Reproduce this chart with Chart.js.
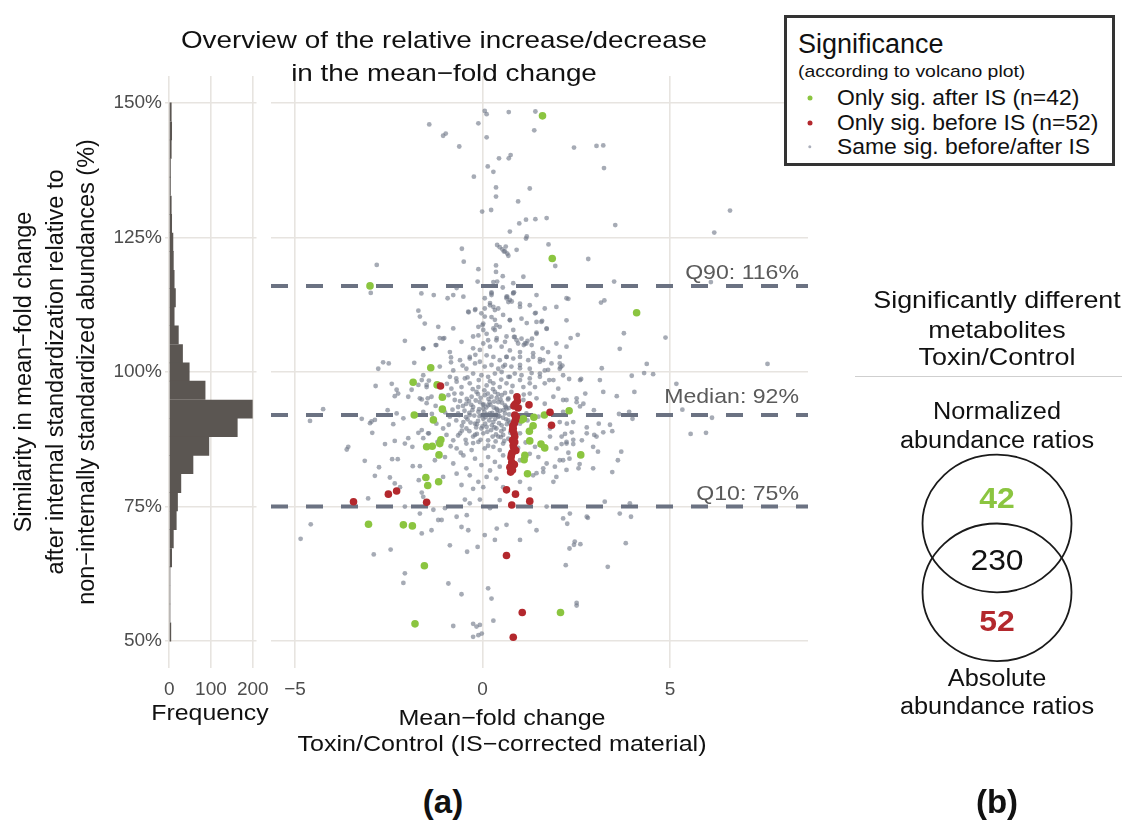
<!DOCTYPE html>
<html><head><meta charset="utf-8">
<script src="https://cdn.jsdelivr.net/npm/chart.js@4"></script>
<style>
body{margin:0;background:#fff;width:1131px;height:821px;position:relative;overflow:hidden;font-family:"Liberation Sans",Arial,sans-serif;color:#111;}
canvas{position:absolute;top:0;}
.t{position:absolute;white-space:nowrap;transform:translate(-50%,-50%) scaleX(var(--sx,1));line-height:1;}
#legend{position:absolute;left:784px;top:15px;width:325px;height:145px;border:3px solid #333;background:#fff;}
#legend .l{position:absolute;white-space:nowrap;line-height:1;transform:translateY(-50%) scaleX(var(--sx,1));transform-origin:0 50%;}
#legend .dot{position:absolute;border-radius:50%;transform:translate(-50%,-50%);}
</style></head><body>
<canvas id="hist" width="285" height="760" style="left:0"></canvas>
<canvas id="scat" width="560" height="760" style="left:262px"></canvas>

<div class="t" style="left:444px;top:40px;font-size:24px;--sx:1.16">Overview of the relative increase/decrease</div>
<div class="t" style="left:444px;top:73px;font-size:24px;--sx:1.16">in the mean−fold change</div>
<div class="t" style="left:210px;top:713px;font-size:22px;--sx:1.13">Frequency</div>
<div class="t" style="left:502px;top:718px;font-size:22px;--sx:1.14">Mean−fold change</div>
<div class="t" style="left:502px;top:744px;font-size:22px;--sx:1.14">Toxin/Control (IS−corrected material)</div>
<div class="t" style="left:443px;top:801px;font-size:33px;font-weight:bold">(a)</div>

<div id="legend"></div>

<svg width="1131" height="821" style="position:absolute;left:0;top:0;pointer-events:none">
  <line x1="855" y1="376.5" x2="1122" y2="376.5" stroke="#cfcfcf" stroke-width="1"/>
  <ellipse cx="997" cy="523.5" rx="74.5" ry="68.8" fill="none" stroke="#1a1a1a" stroke-width="1.8"/>
  <ellipse cx="997" cy="592.3" rx="74.5" ry="68.8" fill="none" stroke="#1a1a1a" stroke-width="1.8"/>
</svg>
<div id="venn"></div>

<script>
// ---------------- DATA ----------------
// histogram of similarity (%) : bin centres and frequencies
const histBins   = [148.3,144.8,141.4,137.9,134.5,131.0,127.6,124.1,120.7,117.2,113.8,110.3,106.9,103.4,100.0,96.6,93.1,89.7,86.2,82.8,79.3,75.9,72.4,69.0,65.5,62.1,58.6,55.2,51.7];
const histCounts = [5,6,5,3,3,5,6,9,10,12,15,12,22,32,48,86,199,163,95,57,28,20,17,10,6,2,2,2,4];

// reference lines (quantiles of similarity, %)
const refLabels = ['Q90: 116%','Median: 92%','Q10: 75%'];
const refValues = [116, 92, 75];

// axis texts
const yTitleLines = ['Similarity in mean−fold change','after internal standardization relative to','non−internally standardized abundances (%)'];

// scatter: [mean-fold change, similarity %]
const onlyAfterIS = [[1.60,147.6],[1.86,121.1],[4.11,111.0],[-3.00,116.0],[-1.38,100.8],[-1.85,98.1],[-1.21,97.6],[-1.07,95.3],[-1.07,93.1],[-1.82,92.0],[-1.31,91.1],[-1.49,86.1],[-1.34,86.2],[-1.11,87.4],[-1.14,86.7],[-1.16,84.6],[-1.51,80.4],[-1.46,78.9],[-1.17,79.6],[-2.11,71.6],[-1.87,71.4],[-3.04,71.7],[-1.55,64.0],[-1.80,53.2],[2.08,55.3],[1.09,91.3],[1.37,91.6],[1.35,90.0],[1.65,92.0],[2.31,92.8],[1.26,87.2],[1.56,86.6],[1.66,85.9],[1.13,84.5],[1.11,83.7],[1.20,81.1],[2.62,84.6],[1.04,91.1],[1.25,89.0]];

const onlyBeforeIS = [[-1.12,97.4],[0.93,94.6],[0.95,93.3],[1.24,93.9],[1.80,92.5],[1.84,90.1],[0.86,92.0],[0.88,91.1],[0.82,89.5],[0.84,88.6],[0.86,88.0],[0.82,86.4],[0.89,85.4],[0.79,85.0],[0.78,83.2],[0.85,82.8],[0.75,81.4],[0.90,91.7],[0.85,90.5],[0.80,89.2],[0.83,86.0],[0.76,84.1],[0.73,82.3],[0.92,95.4],[0.87,94.0],[0.80,87.3],[0.84,93.7],[0.81,90.0],[0.86,87.0],[0.77,84.6],[0.80,81.8],[0.64,78.1],[0.88,77.3],[0.78,75.3],[1.26,76.0],[-2.51,77.3],[-2.29,77.9],[-1.49,75.8],[-3.44,75.9],[0.64,65.9],[1.06,55.3],[0.82,50.7]];

const sameSigUpper = [[-1.42,146.0],[-1.05,143.9],[-0.98,144.3],[-0.62,141.9],[-0.11,146.2],[0.06,148.5],[0.11,147.9],[0.70,148.3],[1.41,148.4],[1.38,144.9],[0.11,143.6],[0.44,139.7],[0.70,139.7],[0.75,140.3],[0.14,138.2],[0.29,137.2],[-0.23,136.3],[0.36,134.3],[0.36,132.6],[1.26,134.1],[0.95,131.7],[-0.01,129.8],[0.23,130.1],[0.98,127.6],[1.16,128.3],[1.41,128.4],[1.71,128.6],[0.73,126.1],[1.16,124.8],[1.76,123.7],[-0.55,122.9],[0.39,123.6],[0.46,123.2],[0.53,122.8],[0.60,122.4],[0.66,122.0],[0.91,122.7],[-0.50,120.5],[-0.11,119.1],[0.36,119.8],[0.36,118.6],[0.54,117.8],[-0.13,116.8],[0.39,116.8],[-0.69,115.6],[0.24,114.8],[0.54,115.7],[0.84,114.8],[0.62,123.3],[0.57,122.4],[0.69,121.6],[0.66,114.0],[1.18,125.2]];

const sameSigRight = [[2.44,141.7],[3.04,142.0],[3.22,142.1],[3.24,137.9],[3.54,127.3],[6.60,130.0],[6.18,125.9],[1.94,119.7],[2.82,121.0],[3.51,116.8],[6.09,116.7],[2.29,113.6],[3.16,112.9],[3.25,113.3],[1.42,111.0],[1.59,109.5],[0.73,109.7],[1.71,108.0],[1.44,107.3],[2.35,106.3],[2.54,106.9],[3.77,107.2],[4.88,106.4],[3.66,104.3],[1.60,104.4],[0.84,106.5],[0.95,105.3],[1.20,105.8],[1.32,106.2],[1.10,105.0],[4.38,101.5],[7.60,101.5],[4.31,99.8],[4.55,99.6],[3.98,99.3],[3.18,100.7],[2.31,98.7],[2.63,98.7],[2.08,100.9],[2.13,101.2],[1.78,98.5],[1.31,99.8],[1.00,100.7],[1.53,102.4],[1.00,102.8],[1.35,103.5],[0.64,102.8],[0.55,101.0],[1.62,102.2],[1.75,100.4],[2.06,101.6],[1.53,99.1],[1.00,98.5],[0.73,99.1],[1.26,97.9],
[3.22,96.3],[3.58,95.5],[4.05,96.3],[5.17,97.8],[2.74,96.0],[5.33,93.0],[6.12,91.5],[5.55,88.5],[5.96,88.7],[3.91,92.6],[4.00,91.3],[3.64,92.2],[3.40,90.2],[3.22,88.8],[3.46,89.0],[2.98,88.3],[2.78,89.7],[2.65,87.3],[3.08,85.2],[3.70,85.2],[3.61,83.6],[3.46,81.4],[2.56,82.1],[2.59,82.9],[2.32,83.9],[2.15,83.6],[2.42,86.6],[3.26,75.9],[2.15,72.8],[2.33,73.7],[2.26,71.8],[2.81,72.9],[3.96,73.1],[2.61,68.0],[2.44,67.9],[2.32,67.2],[3.82,68.2],[2.22,64.1],[3.34,63.8],[2.51,56.6],[2.60,98.5],[3.13,98.5],[2.24,94.8],[2.51,95.1],[2.60,93.6],[2.11,88.0],[2.24,86.7],[2.42,87.4],[2.78,88.6],[3.04,88.0],[2.95,86.1],[2.95,82.1],[2.06,83.6],[2.24,81.8],[1.89,79.6],[1.44,81.2],[1.62,82.1],[2.15,92.6],[2.42,90.7],[2.25,90.4],[2.51,94.4],[2.69,94.1],[2.20,88.5],[2.38,88.8],[2.11,86.6],[2.29,85.0],[2.97,92.9],[3.10,90.4]];

const sameSigLeft = [[-2.82,119.9],[-2.98,114.7],[-1.71,111.4],[-1.67,110.3],[-2.07,105.8],[-1.58,104.3],[-2.65,101.8],[-2.50,101.6],[-2.78,100.6],[-1.82,101.7],[-2.85,97.4],[-2.42,97.8],[-2.29,96.7],[-2.25,96.0],[-2.34,95.5],[-1.98,95.4],[-1.89,96.7],[-1.62,98.5],[-1.49,97.6],[-1.43,98.4],[-1.71,97.6],[-1.62,94.9],[-1.46,95.1],[-1.49,94.2],[-4.25,93.1],[-4.60,90.9],[-3.22,91.3],[-2.96,90.8],[-2.87,91.1],[-3.00,90.5],[-2.53,92.9],[-2.29,92.3],[-2.38,90.3],[-2.11,91.4],[-2.94,88.7],[-3.62,85.6],[-3.58,86.1],[-2.60,86.6],[-2.34,87.2],[-2.07,86.7],[-1.98,87.7],[-1.87,86.1],[-1.71,88.7],[-1.62,89.2],[-1.43,88.6],[-1.58,87.7],[-3.14,83.5],[-2.41,83.8],[-2.26,83.8],[-2.76,82.3],[-2.87,80.7],[-1.86,82.5],[-1.67,82.5],[-2.47,80.4],[-2.34,79.3],[-2.20,78.6],[-1.70,79.9],[-1.62,77.6],[-1.58,76.8],[-3.05,76.5],[-4.58,71.7],[-4.85,69.0],[-2.90,66.1],[-2.45,67.0],[-2.07,62.6],[-2.11,60.8]];

const sameSigMid = [[-0.93,113.7],[-0.37,111.1],[-0.19,111.7],[0.06,111.8],[0.29,112.1],[0.00,108.7],[-1.25,105.0],[-1.14,106.3],[-1.02,106.3],[-0.84,102.7],[-0.84,101.8],[-0.53,101.2],[-0.34,102.5],[-0.19,103.2],[-0.07,104.1],[0.02,105.3],[0.29,116.7],[0.82,116.5],[1.09,117.7],[0.24,114.6],[0.82,114.7],[0.73,113.4],[0.20,112.8],[0.33,111.5],[0.64,113.7],[0.78,113.1],[0.06,110.3],[0.33,109.7],[1.00,112.1],[-0.11,108.4],[0.02,107.8],[0.29,108.1],[0.46,108.4],[0.82,107.8],[1.18,109.1],[-0.25,106.6],[0.15,105.9],[0.38,106.3],[0.64,106.6],[0.91,105.9],[1.13,105.3],
[-1.63,114.6],[-1.30,114.3],[-0.78,114.3],[-0.51,114.0],[0.06,113.7],[0.24,114.3],[0.64,114.0],[0.82,114.6],[1.44,114.3],[2.24,113.7],[0.20,112.4],[0.42,111.8],[0.69,113.0],[1.00,112.7],[1.26,112.4],[1.40,110.9],[1.66,111.8],[1.97,112.1],
[-0.38,111.2],[-0.20,111.5],[-0.03,110.9],[0.24,110.2],[0.55,110.6],[0.73,109.6],[1.04,109.9],[1.44,109.3],[1.57,109.3],[1.71,108.1],[2.24,109.6],[-1.54,109.0],[-1.18,108.4],[-0.78,108.1],[0.37,108.7],[0.02,109.0],[0.33,107.8],
[-1.05,106.2],[-0.56,105.6],[-0.11,106.8],[0.11,107.1],[0.37,105.9],[0.60,105.6],[0.86,106.5],[1.04,106.2],[1.17,105.3],[1.44,107.1],[1.97,105.3],[2.24,104.7],[-1.58,104.4],[-1.23,105.0],[-0.87,103.7],[-0.25,104.4],[0.20,104.7],[0.51,104.7],[0.73,104.0],[1.00,103.7],[1.31,105.0],[1.75,103.7],
[-0.60,102.2],[-0.34,102.8],[-0.07,101.9],[0.11,103.1],[0.29,102.8],[0.46,102.2],[0.64,102.8],[0.82,102.5],[1.00,101.3],[1.22,102.2],[1.35,102.8],[1.53,101.9],[1.84,101.6],[2.06,102.8],[-1.14,101.0],[-0.78,100.3],[-0.43,100.6],[-0.20,101.6],[0.06,101.0],[0.24,101.3],[0.42,100.6],[0.60,101.3],[0.77,101.0],[1.26,100.6],[1.66,100.3],[2.06,100.6]];

const sameSigCore = [[-1.58,99.4],[-0.87,99.1],[-0.69,98.2],[-0.47,98.8],[-0.25,99.7],[-0.03,99.4],[0.15,99.1],[0.33,99.7],[0.51,100.0],[0.69,99.1],[0.86,99.7],[1.04,99.4],[1.26,98.8],[1.53,99.7],[1.89,98.5],[2.15,99.4],[-1.49,97.2],[-0.83,96.9],[-0.56,97.2],[-0.34,97.9],[-0.11,97.2],[0.11,97.5],[0.29,97.9],[0.46,97.2],[0.64,97.9],[1.09,97.2],[1.40,97.2],[1.66,97.9],[2.02,96.9],
[-1.67,95.1],[-1.36,95.4],[-0.91,95.7],[-0.74,94.8],[-0.56,96.0],[-0.43,94.1],[-0.29,95.4],[-0.16,96.3],[-0.07,94.4],[0.06,95.7],[0.15,93.8],[0.24,95.4],[0.33,96.3],[0.42,94.4],[0.51,95.7],[0.60,93.8],[0.69,95.1],[0.77,96.3],[1.09,94.8],[1.26,96.0],[1.44,95.1],[1.66,94.1],[1.89,95.4],[2.15,94.8],[-0.65,93.5],[-0.25,93.5],[0.02,93.2],[0.37,93.2],[0.64,93.2],[1.00,93.5],
[-1.58,92.6],[-0.87,91.7],[-0.65,92.3],[-0.51,90.7],[-0.34,92.0],[-0.20,90.4],[-0.11,92.6],[0.02,91.3],[0.11,89.8],[0.20,92.3],[0.29,90.7],[0.42,91.7],[0.51,90.1],[0.60,92.3],[0.69,91.0],[0.77,89.8],[1.00,90.4],[1.17,92.3],[1.49,91.7],[1.80,89.5],[2.06,90.7],[-1.23,90.4],[-1.05,89.5],[-0.43,89.5],[-0.03,89.5],[0.37,89.5],
[-1.45,88.6],[-0.96,88.3],[-0.78,87.3],[-0.60,88.6],[-0.43,86.7],[-0.25,88.0],[-0.11,87.0],[0.02,88.6],[0.15,87.3],[0.29,86.1],[0.42,88.0],[0.55,86.7],[0.69,87.6],[1.00,88.6],[1.26,87.3],[1.40,86.1],[1.80,88.0],[1.97,85.8],[2.24,87.0],[-0.69,85.8],[-0.29,85.5],[0.06,85.8],[0.46,85.5],
[-1.27,83.6],[-1.00,84.2],[-0.78,83.0],[-0.51,84.5],[-0.20,83.9],[-0.03,82.7],[0.15,84.2],[0.33,83.3],[0.55,84.5],[1.00,83.6],[1.26,84.8],[1.49,84.2],[1.71,83.0],[1.93,82.4],[-0.43,82.1],[0.20,81.7],[0.46,82.4],
[-1.05,80.5],[-0.69,81.1],[-0.34,80.8],[-0.11,79.6],[0.11,80.5],[0.37,80.2],[1.00,79.6],[1.35,80.8],[1.62,81.4],[1.97,80.5],[-0.56,79.0],[-0.25,78.3],[0.02,78.6],[0.55,78.6],[1.26,78.3],
[-0.80,93.0],[-0.70,91.0],[-0.60,94.6],[-0.55,90.0],[-0.48,92.8],[-0.42,95.0],[-0.40,91.2],[-0.35,89.0],[-0.30,93.9],[-0.26,96.8],[-0.22,91.9],[-0.18,94.7],[-0.15,88.5],[-0.12,90.9],[-0.09,93.1],[-0.05,95.2],[-0.02,92.0],[0.00,89.9],[0.03,94.0],[0.05,96.6],[0.08,91.6],[0.10,93.4],[0.13,88.9],[0.16,95.0],[0.18,91.0],[0.21,93.9],[0.23,89.2],[0.26,92.4],[0.28,96.8],[0.31,94.5],[0.34,91.3],[0.36,88.4],[0.39,93.0],[0.41,95.9],[0.44,90.5],[0.47,92.8],[0.49,87.9],[0.52,94.3],[0.55,91.5],[0.57,89.4],[0.60,96.1],[0.62,93.5],[0.65,90.3],[0.68,94.9],[0.71,92.1],[0.74,88.7],[0.78,93.6],[0.82,90.9],[0.88,95.5],[-0.75,96.0],[-0.65,88.2],[-0.45,87.4],[-0.25,86.8],[-0.05,87.4],[0.15,86.3],[0.35,87.1],[0.55,88.3],[-0.90,90.2],[-1.00,92.5],[-1.10,95.6],[-0.95,97.8],[-0.70,98.8],[-0.40,99.0],[-0.10,98.5],[0.20,98.3],[0.50,98.6],[0.80,97.4],[1.10,95.8],[1.20,91.0],[1.30,89.6],[1.15,86.9],[0.95,85.9],[-0.58,85.0],[-0.85,86.2],[-1.20,87.0],[-1.35,92.2],[-1.25,93.7],[-0.35,92.4],[0.05,92.6],[0.45,91.8],[0.25,90.1],[-0.15,90.3],
[-0.62,92.0],[-0.52,93.7],[-0.44,91.6],[-0.32,90.6],[-0.27,92.9],[-0.17,89.7],[-0.08,91.8],[0.01,93.9],[0.07,90.4],[0.12,92.1],[0.19,94.4],[0.22,91.7],[0.30,93.4],[0.32,89.7],[0.40,92.3],[0.48,94.9],[0.50,89.0],[0.56,92.9],[0.63,91.2],[0.70,93.3],[0.72,90.6],[-0.36,94.6],[-0.12,95.9],[0.14,96.0],[0.38,95.2],[-0.55,89.1],[-0.20,88.3],[0.27,88.0],[0.58,87.2]];

const sameSigLower = [[-1.09,72.5],[-0.69,73.1],[-0.42,73.4],[-0.56,71.2],[-0.38,70.6],[-0.87,67.8],[-0.13,67.5],[-0.41,66.6],[0.06,69.7],[0.33,68.8],[0.38,70.9],[0.64,71.6],[-0.91,60.7],[-0.56,58.7],[0.15,59.8],[0.24,57.9],[0.29,53.8],[-0.25,53.2],[-0.16,52.7],[-0.07,53.0],[-0.11,51.1],[-0.02,51.4],[-0.25,50.8],[-0.78,52.8],[2.51,57.1],[2.78,73.1],[2.46,68.5],[3.66,73.7],[3.93,75.6],[1.26,72.2],[1.44,70.6],[1.00,68.8],[1.71,75.0],[-1.62,70.0],[-1.36,70.6],[-1.18,72.5],[-1.00,74.7],[-2.07,75.0],[-1.67,73.7],[-1.31,74.4],[0.20,74.7],[-0.34,75.6],[-0.07,76.3],[0.46,76.2],[-0.47,76.3]];

const sameSig = [].concat(sameSigUpper, sameSigRight, sameSigLeft, sameSigMid, sameSigCore, sameSigLower);

// legend + venn texts
const legendTitle = 'Significance';
const legendSub = '(according to volcano plot)';
const legendItems = ['Only sig. after IS (n=42)','Only sig. before IS (n=52)','Same sig. before/after IS'];
const vennTitle = ['Significantly different','metabolites','Toxin/Control'];
const vennTop = ['Normalized','abundance ratios'];
const vennBottom = ['Absolute','abundance ratios'];
const vennCounts = [42, 230, 52];

// ---------------- STYLE ----------------
const GREEN = '#8bc540', RED = '#b3282d', GRAY = 'rgba(112,119,136,0.62)';
const GRID = '#e7e4e0', TICK = '#4d4d4d', HIST = '#5b5652', DASH = '#6b7282';
Chart.defaults.font.family = '"Liberation Sans", Arial, sans-serif';
Chart.defaults.color = TICK;

const toPts = a => a.map(p => ({x: p[0], y: p[1]}));

// Histogram panel
new Chart(document.getElementById('hist'), {
  type: 'bar',
  data: {datasets: [{
    data: histBins.map((b, i) => ({x: histCounts[i], y: b})),
    backgroundColor: HIST, borderWidth: 0, barPercentage: 1, categoryPercentage: 1
  }]},
  options: {
    indexAxis: 'y', responsive: false, animation: false,
    layout: {padding: {left: 0, right: 28.5, top: 76, bottom: 0}},
    plugins: {legend: {display: false}, tooltip: {enabled: false}},
    scales: {
      x: {type: 'linear', min: -10, max: 209,
          ticks: {stepSize: 100, includeBounds: false, padding: 10, font: {size: 19}, color: TICK, maxRotation: 0},
          grid: {color: GRID, lineWidth: 1.6, drawTicks: false}, border: {display: false},
          afterFit(s) { s.height = 92; }},
      y: {type: 'linear', min: 45, max: 155, offset: false,
          ticks: {stepSize: 25, includeBounds: false, padding: 3, font: {size: 19}, color: TICK, callback: v => v + '%'},
          grid: {color: GRID, lineWidth: 1.6, drawTicks: false, offset: false}, border: {display: false},
          title: {display: true, text: yTitleLines, color: '#111', font: {size: 23.5, lineHeight: 1.34}, padding: {top: 9, bottom: 0}},
          afterFit(s) { s.width = 165; }}
    }
  }
});

// reference dashed lines plugin
const refLines = {
  id: 'refLines',
  beforeDatasetsDraw(chart) {
    const {ctx, chartArea: a, scales: {y}} = chart;
    ctx.save();
    ctx.strokeStyle = DASH; ctx.lineWidth = 4; ctx.setLineDash([17, 18]);
    refValues.forEach(v => {
      const py = y.getPixelForValue(v);
      ctx.beginPath(); ctx.moveTo(a.left, py); ctx.lineTo(a.right, py); ctx.stroke();
    });
    ctx.setLineDash([]);
    ctx.fillStyle = '#5a5a5a'; ctx.font = '21px "Liberation Sans", Arial, sans-serif';
    ctx.textAlign = 'right'; ctx.textBaseline = 'alphabetic';
    refValues.forEach((v, i) => {
      const py = y.getPixelForValue(v);
      const lift = i === 1 ? 12 : 7;
      ctx.save(); ctx.translate(a.right - 9, py - lift); ctx.scale(1.1, 1);
      ctx.fillText(refLabels[i], 0, 0); ctx.restore();
    });
    ctx.restore();
  }
};

// Scatter panel
new Chart(document.getElementById('scat'), {
  type: 'scatter',
  data: {datasets: [
    {data: toPts(onlyBeforeIS), backgroundColor: RED, pointRadius: 3.8, borderWidth: 0},
    {data: toPts(onlyAfterIS), backgroundColor: GREEN, pointRadius: 3.8, borderWidth: 0},
    {data: toPts(sameSig), backgroundColor: GRAY, pointRadius: 2.4, borderWidth: 0}
  ]},
  options: {
    responsive: false, animation: false,
    layout: {padding: {left: 9, right: 14, top: 76, bottom: 0}},
    plugins: {legend: {display: false}, tooltip: {enabled: false}},
    scales: {
      x: {type: 'linear', min: -5.64, max: 8.68,
          ticks: {stepSize: 5, includeBounds: false, padding: 10, font: {size: 19}, color: TICK, maxRotation: 0,
                  callback: v => (v < 0 ? '−' : '') + Math.abs(v)},
          grid: {color: GRID, lineWidth: 1.6, drawTicks: false}, border: {display: false},
          afterFit(s) { s.height = 92; }},
      y: {type: 'linear', min: 45, max: 155,
          ticks: {stepSize: 25, includeBounds: false, display: false},
          grid: {color: GRID, lineWidth: 1.6, drawTicks: false}, border: {display: false},
          afterFit(s) { s.width = 0; }}
    }
  },
  plugins: [refLines]
});

// Legend (HTML)
(function(){
  const L = document.getElementById('legend');
  const ox = 787, oy = 18; // content origin
  const add = (html) => { L.insertAdjacentHTML('beforeend', html); };
  add(`<div class="l" style="left:${798-ox}px;top:${44-oy}px;font-size:27px">${legendTitle}</div>`);
  add(`<div class="l" style="left:${798-ox}px;top:${71-oy}px;font-size:17px;--sx:1.14">${legendSub}</div>`);
  const cols = [GREEN, RED, 'rgba(150,155,170,0.8)'];
  const rads = [5, 5, 3.4];
  const ys = [97.5, 122.5, 146.5];
  legendItems.forEach((t, i) => {
    add(`<div class="dot" style="left:${810-ox}px;top:${ys[i]-oy}px;width:${rads[i]}px;height:${rads[i]}px;background:${cols[i]}"></div>`);
    add(`<div class="l" style="left:${837-ox}px;top:${ys[i]-oy}px;font-size:22px;--sx:1.04">${t}</div>`);
  });
})();

// Venn texts (HTML)
(function(){
  const V = document.getElementById('venn');
  const add = (t, x, y, style) => V.insertAdjacentHTML('beforeend', `<div class="t" style="left:${x}px;top:${y}px;${style}">${t}</div>`);
  const cx = 997;
  [300, 330, 357].forEach((y, i) => add(vennTitle[i], cx, y, 'font-size:24px;--sx:1.12'));
  [411, 440].forEach((y, i) => add(vennTop[i], cx, y, 'font-size:23px;--sx:1.1'));
  [678, 706].forEach((y, i) => add(vennBottom[i], cx, y, 'font-size:23px;--sx:1.1'));
  add(vennCounts[0], cx, 498, `font-size:29px;font-weight:bold;color:${GREEN};--sx:1.1`);
  add(vennCounts[1], cx, 560, 'font-size:29px;color:#111;--sx:1.1');
  add(vennCounts[2], cx, 621, `font-size:29px;font-weight:bold;color:${RED};--sx:1.1`);
  add('(b)', cx, 801, 'font-size:33px;font-weight:bold');
})();
</script>
</body></html>
